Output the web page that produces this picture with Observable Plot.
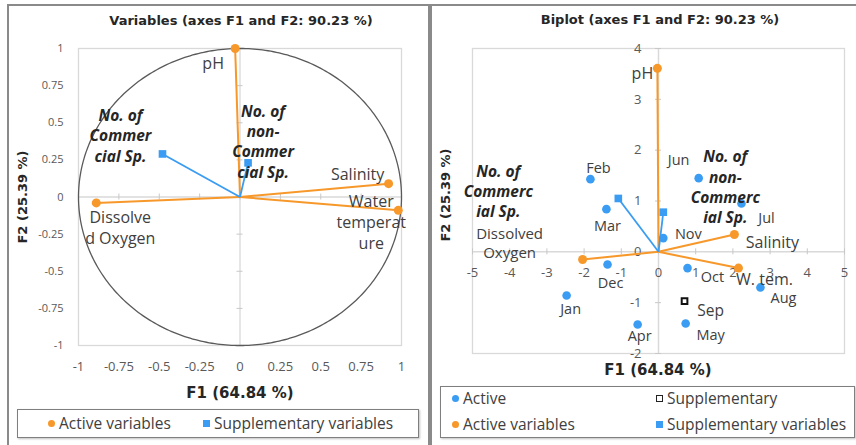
<!DOCTYPE html>
<html>
<head>
<meta charset="utf-8">
<script src="https://cdn.jsdelivr.net/npm/d3@7"></script>
<script src="https://cdn.jsdelivr.net/npm/@observablehq/plot@0.6"></script>
<style>
  body { margin: 0; background: #fff; font-family: "Open Sans", sans-serif; }
  #page { position: relative; width: 856px; height: 445px; overflow: hidden; background: #fff; }
  .panel { position: absolute; box-sizing: border-box; border: 2px solid #8a8a8a; }
  .title { position: absolute; font-family: "DejaVu Sans", sans-serif; font-weight: bold; font-size: 13px; color: #262626; white-space: nowrap; transform: translate(-50%, -50%); }
  .xtitle { position: absolute; font-family: "DejaVu Sans", sans-serif; font-weight: bold; font-size: 15px; color: #262626; white-space: nowrap; transform: translate(-50%, -50%); }
  .ytitle { position: absolute; font-family: "DejaVu Sans", sans-serif; font-weight: bold; font-size: 13px; color: #262626; white-space: nowrap; transform: translate(-50%, -50%) rotate(-90deg); }
  .chart { position: absolute; top: 0; }
  .chart svg { display: block; max-width: none; }
  .legend { position: absolute; box-sizing: border-box; border: 1.5px solid #7f7f7f; box-shadow: 1px 1px 2px rgba(0,0,0,0.25); background: #fff; }
  .item { position: absolute; font-size: 15.5px; color: #404040; white-space: nowrap; transform: translateY(-50%); }
  .sw { display: inline-block; vertical-align: middle; margin-right: 4px; position: relative; top: -1px; }
  .sw.dot { width: 7px; height: 7px; border-radius: 50%; }
  .sw.sq { width: 7px; height: 7px; }
  .sw.hollow { width: 5px; height: 5px; border: 1.5px solid #222; }
</style>
</head>
<body>
<div id="page">
  <div class="panel" style="left:7px; top:4px; width:423px; height:460px;"></div>
  <div class="panel" style="left:430px; top:4px; width:440px; height:460px;"></div>

  <div class="title" style="left:241px; top:20px;">Variables (axes F1 and F2: 90.23 %)</div>
  <div class="title" style="left:660px; top:19px;">Biplot (axes F1 and F2: 90.23 %)</div>

  <div id="circle" class="chart" style="left:0px;"></div>
  <div id="biplot" class="chart" style="left:430px;"></div>

  <div class="xtitle" style="left:240px; top:393px;">F1 (64.84 %)</div>
  <div class="xtitle" style="left:658px; top:370px;">F1 (64.84 %)</div>
  <div class="ytitle" style="left:22px; top:197px;">F2 (25.39 %)</div>
  <div class="ytitle" style="left:445px; top:195px;">F2 (25.39 %)</div>

  <div class="legend" style="left:17px; top:409px; width:402px; height:29px;"></div>
  <div class="item" style="left:48px; top:423px;"><span class="sw dot" style="background:#f7982b"></span>Active variables</div>
  <div class="item" style="left:203px; top:423px;"><span class="sw sq" style="background:#3a9cf2"></span>Supplementary variables</div>

  <div class="legend" style="left:440px; top:386px; width:415px; height:52px;"></div>
  <div class="item" style="left:452px; top:398px;"><span class="sw dot" style="background:#3a9cf2"></span>Active</div>
  <div class="item" style="left:656px; top:398px;"><span class="sw hollow"></span>Supplementary</div>
  <div class="item" style="left:452px; top:424px;"><span class="sw dot" style="background:#f7982b"></span>Active variables</div>
  <div class="item" style="left:656px; top:424px;"><span class="sw sq" style="background:#3a9cf2"></span>Supplementary variables</div>
</div>

<script>
// ---- Correlation circle: loadings on F1 / F2 ----
const circleActiveLabels = ["pH", "Salinity", "Water\ntemperat\nure", "Dissolve\nd Oxygen"];
const circleActiveF1 = [-0.03, 0.92, 0.98, -0.89];
const circleActiveF2 = [1.00, 0.09, -0.09, -0.04];
const circleSuppLabels = ["No. of\nCommer\ncial Sp.", "No. of\nnon-\nCommer\ncial Sp."];
const circleSuppF1 = [-0.48, 0.05];
const circleSuppF2 = [0.29, 0.23];
const circleTicks = [-1, -0.75, -0.5, -0.25, 0, 0.25, 0.5, 0.75, 1];

// ---- Biplot: observations (months) and variables ----
const months = ["Jan", "Feb", "Mar", "Apr", "May", "Jun", "Jul", "Aug", "Oct", "Nov", "Dec"];
const monthF1 = [-2.47, -1.83, -1.40, -0.56, 0.73, 1.08, 2.23, 2.74, 0.78, 0.13, -1.37];
const monthF2 = [-0.86, 1.43, 0.84, -1.43, -1.41, 1.45, 0.95, -0.70, -0.32, 0.27, -0.25];
const suppMonths = ["Sep"];
const suppMonthF1 = [0.70];
const suppMonthF2 = [-0.97];
const biActiveLabels = ["pH", "Salinity", "W. tem.", "Dissolved\nOxygen"];
const biActiveF1 = [-0.03, 2.04, 2.15, -2.04];
const biActiveF2 = [3.61, 0.34, -0.32, -0.15];
const biSuppLabels = ["No. of\nCommerc\nial Sp.", "No. of\nnon-\nCommerc\nial Sp."];
const biSuppF1 = [-1.08, 0.13];
const biSuppF2 = [1.05, 0.78];
const biTicksX = [-5, -4, -3, -2, -1, 0, 1, 2, 3, 4, 5];
const biTicksY = [-2, -1, 0, 1, 2, 3, 4];

// ---- label placement (pixel offsets from each point) ----
const circleActiveOffsets = [[-22, 14], [-31, -10], [-27, 11], [24, 24]];
const circleSuppOffsets = [[-42, -19], [15, -22]];
const monthOffsets = {
  Jan: [4, 12], Feb: [8, -12], Mar: [1, 16], Apr: [2, 10], May: [25, 10], Jun: [-20, -19],
  Jul: [25, 13], Aug: [23, 10], Oct: [25, 8], Nov: [25, -5], Dec: [3, 17], Sep: [26, 8]
};
const biActiveOffsets = [[-15, 4], [38, 7], [26, 10], [-73, -17]];
const biSuppOffsets = [[-120, -8], [62, -26]];

const ORANGE = "#f7982b";
const BLUE = "#3a9cf2";
const GRID = "#d9d9d9";
const FONT = "Open Sans";

const zip = (labels, f1, f2, offs) => labels.map((label, i) => ({
  label, x: f1[i], y: f2[i], dx: offs ? offs[i][0] : 0, dy: offs ? offs[i][1] : 0
}));

function labelMarks(data, opts) {
  // one text mark per label so each can carry its own offset
  return data.map(d => Plot.text([d], {
    x: "x", y: "y", text: "label", dx: d.dx, dy: d.dy,
    lineAnchor: "middle", lineHeight: 1.3, fontFamily: FONT, ...opts
  }));
}

// ---------------- Correlation circle ----------------
{
  const W = 430, H = 400, mL = 78, mR = 29, mT = 48, mB = 55;
  const tickX = 3 * 2 / (H - mT - mB); // 3px in data units (vertical)
  const tickY = 3 * 2 / (W - mL - mR); // 3px in data units (horizontal)
  const active = zip(circleActiveLabels, circleActiveF1, circleActiveF2, circleActiveOffsets);
  const supp = zip(circleSuppLabels, circleSuppF1, circleSuppF2, circleSuppOffsets);
  const unitCircle = d3.range(0, 361, 1).map(a => [Math.cos(a * Math.PI / 180), Math.sin(a * Math.PI / 180)]);

  const chart = Plot.plot({
    width: W, height: H,
    marginLeft: mL, marginRight: mR, marginTop: mT, marginBottom: mB,
    style: { background: "transparent", fontFamily: FONT },
    x: { domain: [-1, 1] },
    y: { domain: [-1, 1] },
    marks: [
      Plot.frame({ stroke: GRID, strokeWidth: 1.3 }),
      Plot.ruleX([0], { stroke: GRID, strokeWidth: 1.3 }),
      Plot.ruleY([0], { stroke: GRID, strokeWidth: 1.3 }),
      Plot.ruleX(circleTicks, { x: d => d, y1: -tickX, y2: tickX, stroke: "#c8c8c8" }),
      Plot.ruleY(circleTicks, { y: d => d, x1: -tickY, x2: tickY, stroke: "#c8c8c8" }),
      Plot.axisX(circleTicks, { tickSize: 0, tickPadding: 16, fontSize: 13, fill: "#595959", tickFormat: d => String(d), label: null }),
      Plot.axisY(circleTicks, { tickSize: 0, tickPadding: 15, fontSize: 11, fill: "#595959", tickFormat: d => String(d), label: null }),
      Plot.line(unitCircle, { x: d => d[0], y: d => d[1], stroke: "#5a5a5a", strokeWidth: 1.3 }),
      Plot.link(active, { x1: 0, y1: 0, x2: "x", y2: "y", stroke: ORANGE, strokeWidth: 2 }),
      Plot.link(supp, { x1: 0, y1: 0, x2: "x", y2: "y", stroke: BLUE, strokeWidth: 1.8 }),
      Plot.dot(active, { x: "x", y: "y", r: 4.5, fill: ORANGE }),
      Plot.dot(supp, { x: "x", y: "y", r: 4.3, symbol: "square", fill: BLUE }),
      ...labelMarks(active, { fontSize: 16, fill: "#404040" }),
      ...labelMarks(supp, { fontSize: 15.5, fontWeight: "bold", fontStyle: "italic", fill: "#262626" })
    ]
  });
  document.getElementById("circle").append(chart);
}

// ---------------- Biplot ----------------
{
  const W = 426, H = 400, mL = 42, mR = 12, mT = 48, mB = 47;
  const tickX = 3 * 6 / (H - mT - mB);
  const tickY = 3 * 10 / (W - mL - mR);
  const obs = months.map((m, i) => ({ label: m, x: monthF1[i], y: monthF2[i], dx: monthOffsets[m][0], dy: monthOffsets[m][1] }));
  const suppObs = suppMonths.map((m, i) => ({ label: m, x: suppMonthF1[i], y: suppMonthF2[i], dx: monthOffsets[m][0], dy: monthOffsets[m][1] }));
  const active = zip(biActiveLabels, biActiveF1, biActiveF2, biActiveOffsets);
  const supp = zip(biSuppLabels, biSuppF1, biSuppF2, biSuppOffsets);

  const chart = Plot.plot({
    width: W, height: H,
    marginLeft: mL, marginRight: mR, marginTop: mT, marginBottom: mB,
    style: { background: "transparent", fontFamily: FONT },
    x: { domain: [-5, 5], axis: null },
    y: { domain: [-2, 4], axis: null },
    marks: [
      Plot.frame({ stroke: GRID, strokeWidth: 1.3 }),
      Plot.ruleX([0], { stroke: GRID, strokeWidth: 1.5 }),
      Plot.ruleY([0], { stroke: GRID, strokeWidth: 1.5 }),
      Plot.ruleX(biTicksX, { x: d => d, y1: -tickX, y2: tickX, stroke: "#c8c8c8" }),
      Plot.ruleY(biTicksY, { y: d => d, x1: -tickY, x2: tickY, stroke: "#c8c8c8" }),
      Plot.text(biTicksX, { x: d => d, y: 0, text: d => String(d), dy: 21, fontSize: 13, fill: "#595959", fontFamily: FONT }),
      Plot.text(biTicksY, { x: 0, y: d => d, text: d => String(d), dx: -17, textAnchor: "end", fontSize: 13, fill: "#595959", fontFamily: FONT }),
      Plot.link(active, { x1: 0, y1: 0, x2: "x", y2: "y", stroke: ORANGE, strokeWidth: 2 }),
      Plot.link(supp, { x1: 0, y1: 0, x2: "x", y2: "y", stroke: BLUE, strokeWidth: 1.8 }),
      Plot.dot(obs, { x: "x", y: "y", r: 4.3, fill: BLUE }),
      Plot.dot(suppObs, { x: "x", y: "y", r: 3.2, symbol: "square", fill: "#fff", stroke: "#111", strokeWidth: 2 }),
      Plot.dot(active, { x: "x", y: "y", r: 4.5, fill: ORANGE }),
      Plot.dot(supp, { x: "x", y: "y", r: 4.3, symbol: "square", fill: BLUE }),
      ...labelMarks(obs, { fontSize: 14.5, fill: "#404040" }),
      ...labelMarks(suppObs, { fontSize: 15.5, fill: "#404040" }),
      ...labelMarks(active.slice(0, 3), { fontSize: 16, fill: "#404040" }),
      ...labelMarks(active.slice(3), { fontSize: 15, fill: "#404040" }),
      ...labelMarks(supp, { fontSize: 15.5, fontWeight: "bold", fontStyle: "italic", fill: "#262626" })
    ]
  });
  document.getElementById("biplot").append(chart);
}
</script>
</body>
</html>
